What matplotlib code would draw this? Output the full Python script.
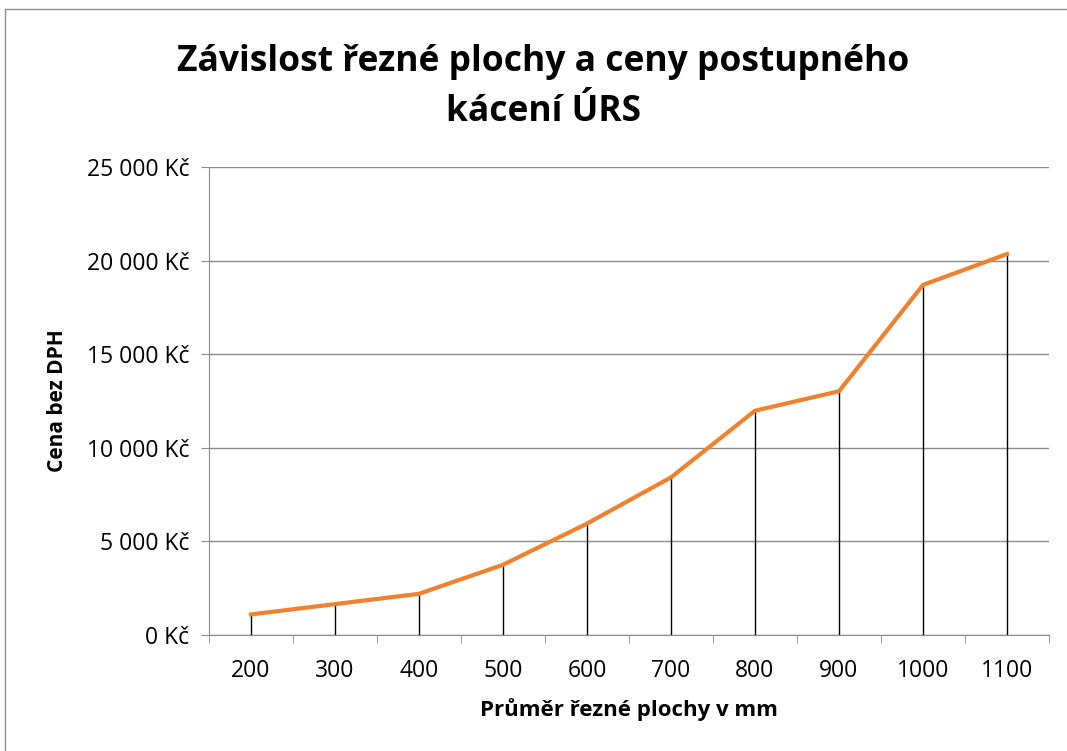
import numpy as np
import matplotlib.pyplot as plt
from matplotlib.lines import Line2D
from matplotlib.ticker import FuncFormatter

plt.rcParams['font.family'] = ['Open Sans', 'DejaVu Sans']

prumer = ['200', '300', '400', '500', '600', '700', '800', '900', '1000', '1100']
cena = [1100, 1650, 2200, 3750, 5950, 8420, 11980, 13020, 18700, 20350]

fig = plt.figure(figsize=(10.67, 7.51), dpi=100)
ax = fig.add_axes([209/1067, 1-635/751, 840/1067, 468/751])

x = np.arange(len(prumer))
# drop lines from the axis to each point
ax.vlines(x, 0, cena, color='black', lw=1.0, zorder=2)
ax.plot(x, cena, color='#F0812E', lw=3, solid_joinstyle='miter', zorder=3)

ax.set_xlim(-0.5, len(prumer) - 0.5)
ax.set_ylim(0, 25000)
ax.set_yticks(np.arange(0, 25001, 5000))
ax.yaxis.set_major_formatter(FuncFormatter(
    lambda v, p: (f'{int(v):,}'.replace(',', ' ') + ' Kč')))
ax.grid(axis='y', color='#8c8c8c', lw=1)
ax.set_axisbelow(True)

ax.set_xticks(x)
ax.set_xticklabels(prumer)
ax.set_xticks(np.arange(-0.5, len(prumer)), minor=True)
ax.tick_params(axis='x', which='major', length=0, pad=17, labelsize=16.5)
ax.tick_params(axis='x', which='minor', length=6, color='#8c8c8c', direction='out')
ax.tick_params(axis='y', length=6, color='#8c8c8c', pad=8, labelsize=16.5)

for s in ['top', 'right']:
    ax.spines[s].set_visible(False)
for s in ['left', 'bottom']:
    ax.spines[s].set_color('#8c8c8c')

ax.set_xlabel('Průměr řezné plochy v mm', fontsize=16, fontweight='bold')
ax.set_ylabel('Cena bez DPH', fontsize=15, fontweight='bold')
ax.xaxis.set_label_coords(0.5, -(698 - 635) / 468)
ax.yaxis.set_label_coords((68 - 209) / 840, 0.5)

fig.text(543/1067, 1-87/751, 'Závislost řezné plochy a ceny postupného\nkácení ÚRS',
         ha='center', va='center', fontsize=25.5, fontweight='bold', linespacing=1.55)

# chart frame
fig.add_artist(Line2D([5/1067, 5/1067], [0, 1-9/751], color='#8c8c8c', lw=1))
fig.add_artist(Line2D([5/1067, 1], [1-9/751, 1-9/751], color='#8c8c8c', lw=1))

fig.savefig('out.png', dpi=100)
